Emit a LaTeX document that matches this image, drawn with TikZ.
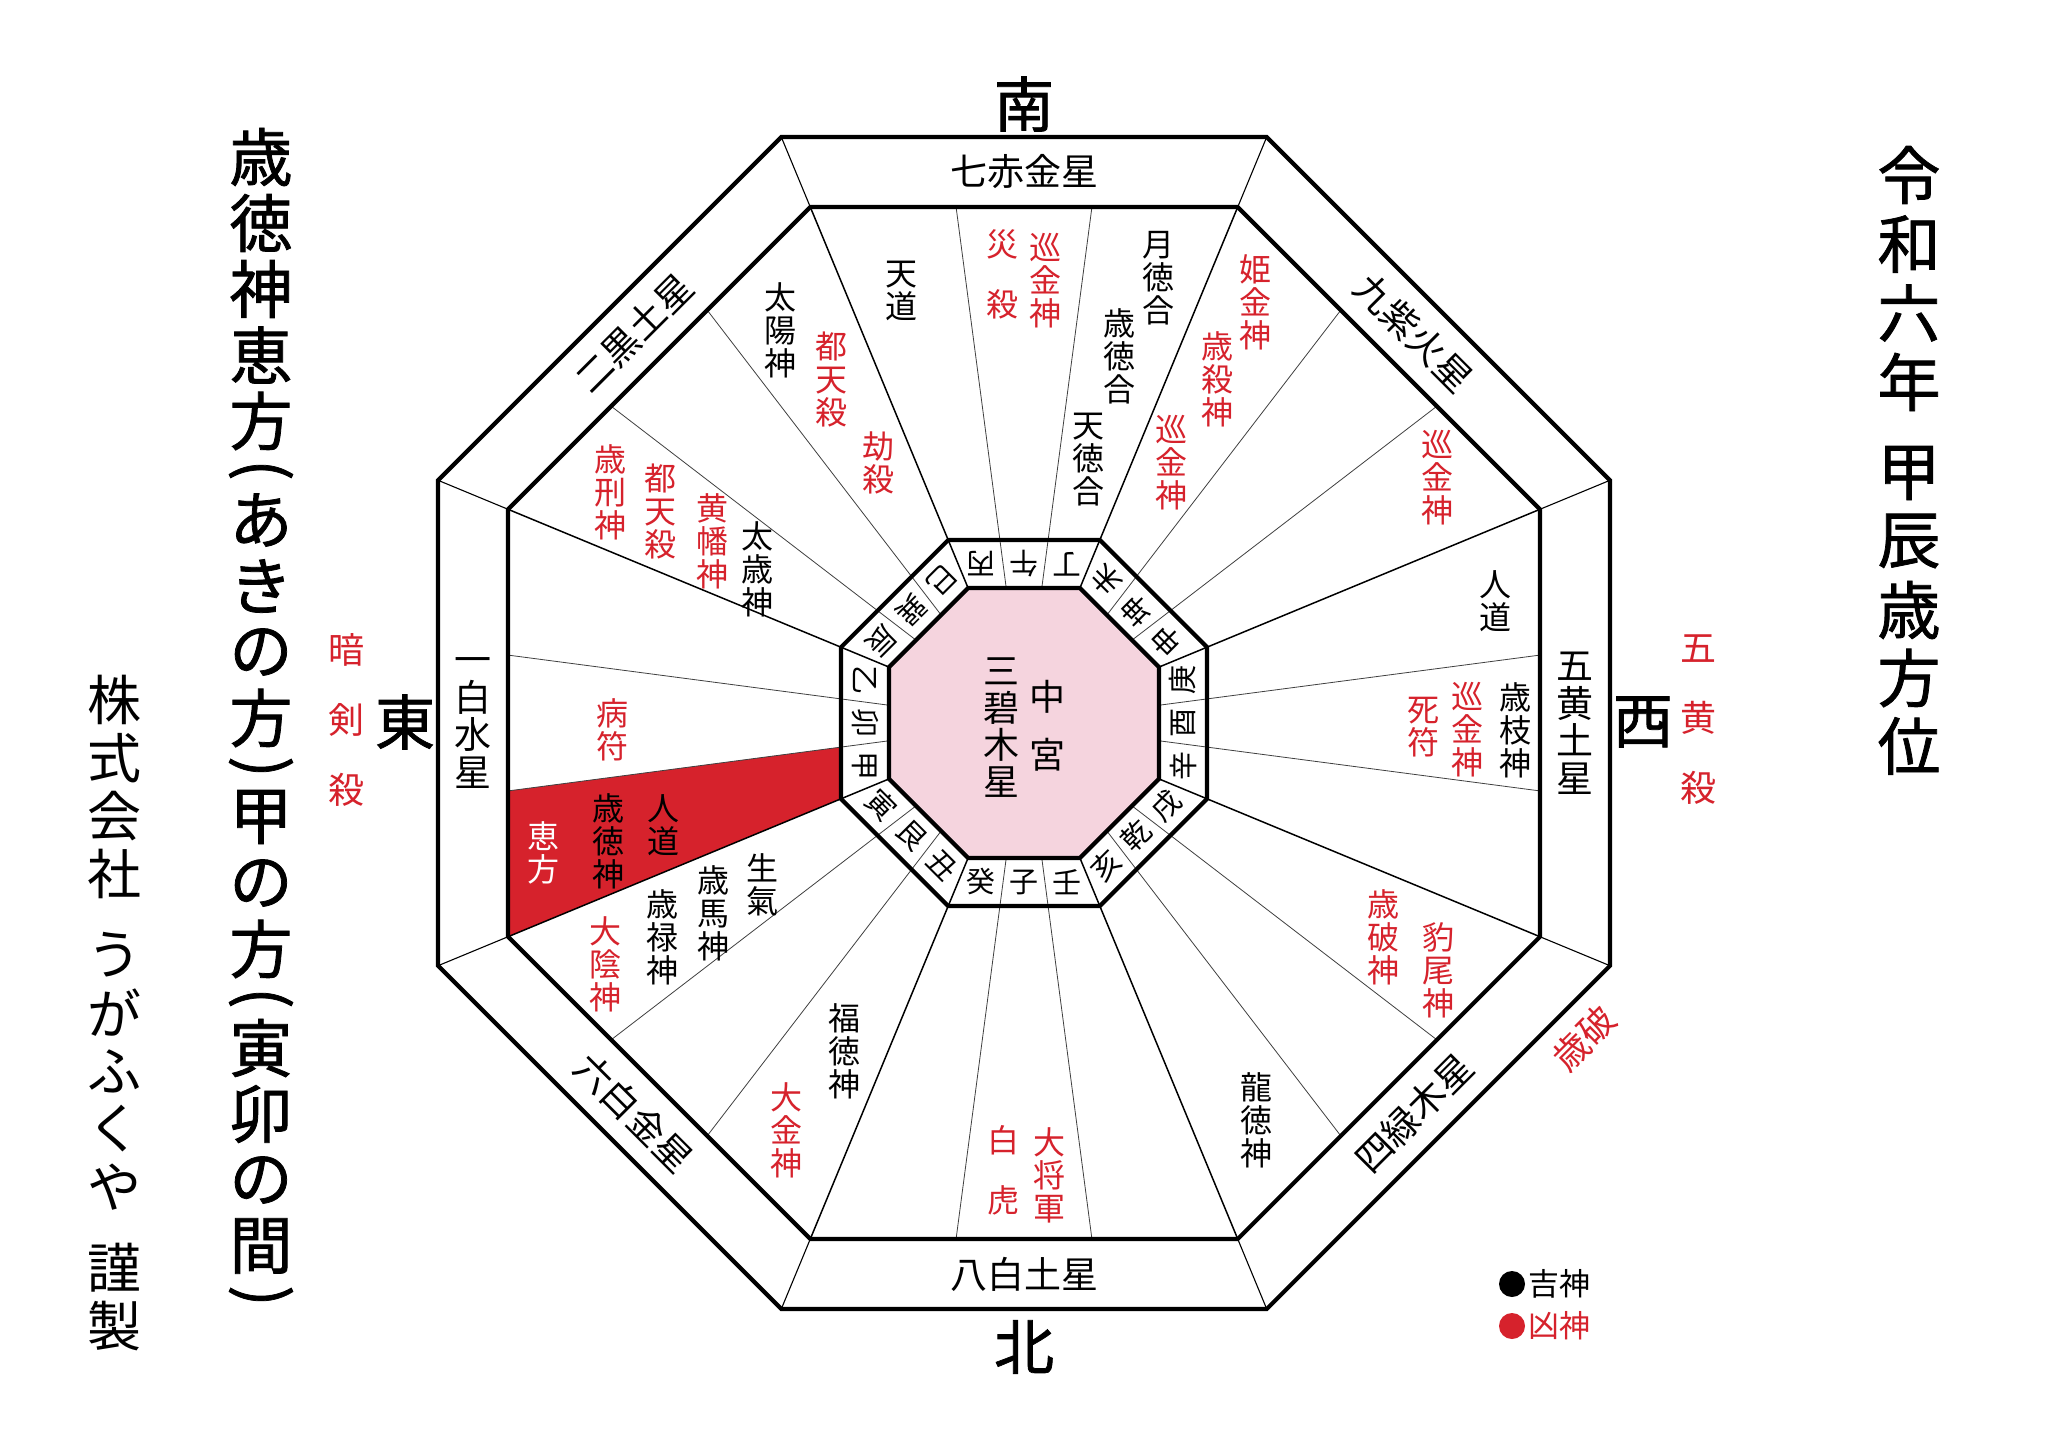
\documentclass[tikz,border=0pt]{standalone}
\usepackage{fontspec}
\newfontfamily\jp{Noto Sans CJK JP}
\newfontfamily\jpm{Noto Sans CJK JP}[FakeBold=1.2]
\definecolor{myred}{RGB}{214,34,44}
\definecolor{pinkfill}{RGB}{245,212,222}
\newcommand\octo[1]{(-67.5:#1) -- (-22.5:#1) -- (22.5:#1) -- (67.5:#1) -- (112.5:#1) -- (157.5:#1) -- (202.5:#1) -- (247.5:#1) -- cycle}
\begin{document}
\begin{tikzpicture}[x=1pt,y=-1pt,
  heavy/.style={line width=4.2pt, line join=miter, black},
  vline/.style={line width=1.5pt, black},
  tline/.style={line width=0.8pt, black!75},
  cline/.style={line width=1.1pt, black},
  lbl/.style={inner sep=0pt, align=center, font=\jp\fontsize{32}{33}\selectfont},
  blk/.style={lbl, text=black},
  rd/.style={lbl, text=myred},
  rdw/.style={rd, font=\jp\fontsize{32}{60}\selectfont},
  ring/.style={inner sep=0pt, align=center, font=\jp\fontsize{37}{37.5}\selectfont},
  mtn/.style={inner sep=0pt, font=\jp\fontsize{29}{30}\selectfont},
  dir/.style={inner sep=0pt, font=\jpm\fontsize{60}{60}\selectfont},
  ttl/.style={inner sep=0pt, font=\jpm\fontsize{63}{63}\selectfont},
  co/.style={inner sep=0pt, font=\jp\fontsize{54}{54}\selectfont},
  side/.style={inner sep=0pt, align=center, text=myred, font=\jp\fontsize{36}{70}\selectfont},
  leg/.style={inner sep=0pt, anchor=west, font=\jp\fontsize{31}{32}\selectfont}
]
\fill[white] (0,0) rectangle (2048,1448);
\useasboundingbox (0,0) rectangle (2048,1448);

\begin{scope}[shift={(1024,723)}]
  % eho sector
  \fill[myred] (172.5:184.58) -- (172.5:520.45) -- (157.5:558.51) -- (157.5:198.08) -- cycle;
  % centre
  \fill[pinkfill] \octo{146.12};
  % radial lines
  \foreach \k in {0,...,23}{
    \pgfmathsetmacro\a{-82.5+15*\k}
    \pgfmathtruncatemacro\m{mod(\k,3)}
    \ifnum\m=1
      \draw[vline] (\a:146.12) -- (\a:558.51);
    \else
      \draw[tline] (\a:136.16) -- (\a:520.45);
    \fi
  }
  % corner lines of the star ring
  \foreach \a in {-67.5,-22.5,...,247.5}
    \draw[cline] (\a:558.51) -- (\a:634.28);
  % octagons
  \draw[heavy] \octo{634.28};
  \draw[heavy] \octo{558.51};
  \draw[heavy] \octo{198.08};
  \draw[heavy] \octo{146.12};
  % 24 mountains
  \foreach \n [count=\j from 0] in {午,丁,未,坤,申,庚,酉,辛,戌,乾,亥,壬,子,癸,丑,艮,寅,甲,卯,乙,辰,巽,巳,丙}{
    \pgfmathtruncatemacro\m{mod(\j,3)}
    \ifcase\m
      \pgfmathsetmacro\ph{15*\j}\def\rr{159}
    \or
      \pgfmathsetmacro\ph{15*(\j-1)}\def\rr{164.6}
    \or
      \pgfmathsetmacro\ph{15*(\j+1)}\def\rr{164.6}
    \fi
    \pgfmathsetmacro\ang{15*\j-90}
    \pgfmathsetmacro\rot{180-\ph}
    \node[mtn, rotate=\rot] (m\j) at (\ang:\rr) {\n};
  }
\end{scope}

% centre text
\node[inner sep=0pt, align=center, font=\jp\fontsize{36}{58}\selectfont] (chu) at (1047,726) {中\\宮};
\node[inner sep=0pt, align=center, font=\jp\fontsize{36}{37}\selectfont] (san) at (1001,728) {三\\碧\\木\\星};

% star ring
\node[ring] (s7) at (1024,172) {七赤金星};
\node[ring] (s8) at (1024,1274) {八白土星};
\node[ring] (s1) at (473,723) {一\\白\\水\\星};
\node[ring] (s5) at (1575,723) {五\\黄\\土\\星};
\node[ring, rotate=45] (s2) at (634,333) {二黒土星};
\node[ring, rotate=-45] (s9) at (1414,333) {九紫火星};
\node[ring, rotate=-45] (s6) at (634,1113) {六白金星};
\node[ring, rotate=45] (s4) at (1414,1113) {四緑木星};

% sector labels
\node[blk] (a1) at (901,291) {天\\道};
\node[blk] (a2) at (780,330) {太\\陽\\神};
\node[rd] (a3) at (831,379) {都\\天\\殺};
\node[rd] (a4) at (878,463) {劫\\殺};
\node[rdw] (a5) at (1002,274) {災\\殺};
\node[rd] (a6) at (1045,281) {巡\\金\\神};
\node[blk] (a7) at (1158,278) {月\\徳\\合};
\node[blk] (a8) at (1119,356) {歳\\徳\\合};
\node[blk] (a9) at (1088,460) {天\\徳\\合};
\node[rd] (b1) at (1255,302) {姫\\金\\神};
\node[rd] (b2) at (1217,379) {歳\\殺\\神};
\node[rd] (b3) at (1171,463) {巡\\金\\神};
\node[rd] (b4) at (1437,478) {巡\\金\\神};
\node[blk] (b5) at (1495,601) {人\\道};
\node[blk] (b6) at (1515,730) {歳\\枝\\神};
\node[rd] (b7) at (1467,730) {巡\\金\\神};
\node[rd] (b8) at (1423,727) {死\\符};
\node[rd] (b9) at (1383,937) {歳\\破\\神};
\node[rd] (c1) at (1438,970) {豹\\尾\\神};
\node[blk] (c2) at (1256,1120) {龍\\徳\\神};
\node[rd] (c3) at (1049,1175) {大\\将\\軍};
\node[rdw] (c4) at (1003,1170) {白\\虎};
\node[blk] (c5) at (844,1051) {福\\徳\\神};
\node[rd] (c6) at (786,1130) {大\\金\\神};
\node[blk] (c7) at (762,885) {生\\氣};
\node[blk] (c8) at (713,913) {歳\\馬\\神};
\node[blk] (c9) at (662,937) {歳\\禄\\神};
\node[rd] (d1) at (605,964) {大\\陰\\神};
\node[blk] (d2) at (663,825) {人\\道};
\node[blk] (d3) at (608,841) {歳\\徳\\神};
\node[lbl, text=white] (d4) at (543,853) {恵\\方};
\node[rd] (d5) at (612,730) {病\\符};
\node[rd] (d6) at (610,492) {歳\\刑\\神};
\node[rd] (d7) at (660,511) {都\\天\\殺};
\node[rd] (d8) at (712,541) {黄\\幡\\神};
\node[blk] (d9) at (757,569) {太\\歳\\神};

% directions
\node[dir] (south) at (1024,104) {南};
\node[dir] (north) at (1024,1347) {北};
\node[dir] (east) at (405,722) {東};
\node[dir] (west) at (1643,722) {西};
\node[side] (ank) at (346,720) {暗\\剣\\殺};
\node[side] (gok) at (1698,720) {五\\黄\\殺};
\node[inner sep=0pt, text=myred, rotate=45, font=\jp\fontsize{36}{36}\selectfont] (saiha) at (1584,1038) {歳破};

% left title
\foreach \c/\y in {歳/157,徳/223,神/289,恵/355,方/421,あ/520,き/586,の/652,方/718,甲/817,の/883,方/949,寅/1048,卯/1114,の/1180,間/1246}
  \node[ttl] at (261,\y) {\c};
\foreach \y in {470,998}
  \node[ttl, rotate=-90] at (261,\y) {(};
\foreach \y in {767,1296}
  \node[ttl, rotate=-90] at (261,\y) {)};

% company
\foreach \c/\y in {株/700,式/758,会/816,社/874,う/955,が/1013,ふ/1071,く/1129,や/1187,謹/1268,製/1326}
  \node[co] at (114,\y) {\c};

% right title
\foreach \c/\y in {令/175,和/244,六/313,年/382,甲/473,辰/541,歳/610,方/678,位/746}
  \node[ttl] at (1909,\y) {\c};

% legend
\fill[black] (1512,1284) circle (13);
\node[leg] (kichi) at (1528,1284) {吉神};
\fill[myred] (1512,1326) circle (13);
\node[leg, text=myred] (kyo) at (1528,1326) {凶神};
\end{tikzpicture}
\end{document}
